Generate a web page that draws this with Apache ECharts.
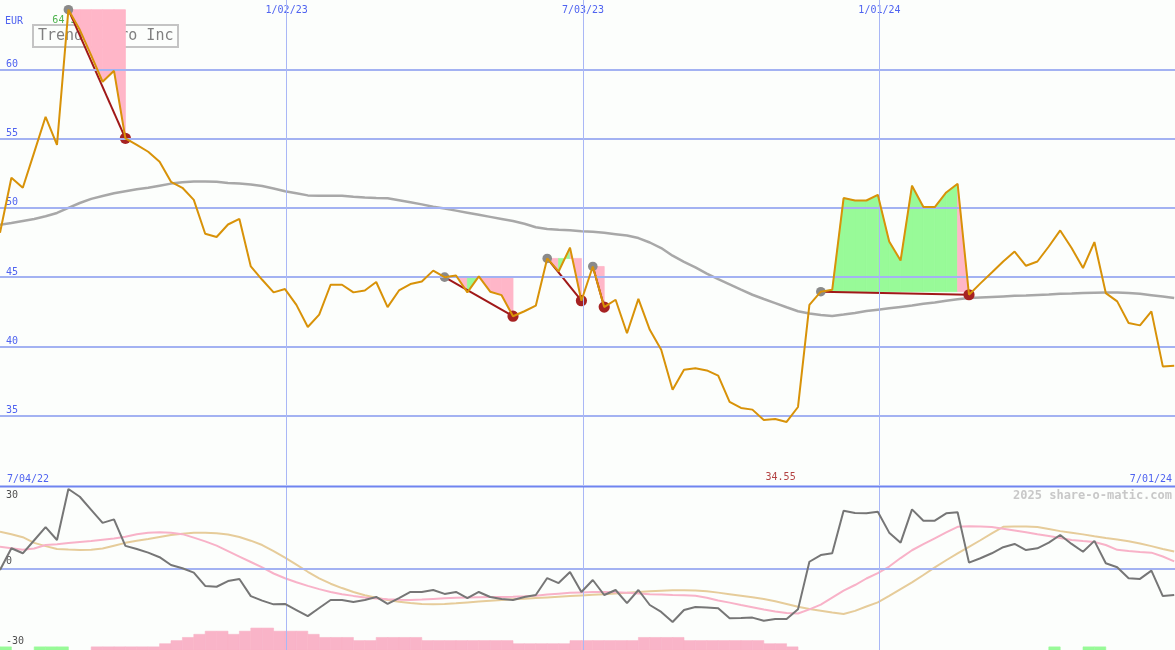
<!DOCTYPE html>
<html><head><meta charset="utf-8">
<script src="https://cdn.jsdelivr.net/npm/echarts@6/dist/echarts.min.js"></script>
<style>html,body{margin:0;padding:0;background:#fcfefc;}#c{width:1175px;height:650px;}</style>
</head><body><div id="c"></div>
<script>
// ---------- data ----------
const firstWeek = '2022-07-10';
const dateLabels = ['1/02/23', '7/03/23', '1/01/24'];
const dateLabelIso = ['2023-01-02', '2023-07-03', '2024-01-01'];
const cornerLabels = ['7/04/22', '7/01/24'];
const priceTicks = [35, 40, 45, 50, 55, 60];
const oscTicks = [30, 0, -30];
const stockName = 'Trend Micro Inc';
const currency = 'EUR';
const credit = '2025 share-o-matic.com';

const price = [48.2,52.17,51.45,54.0,56.57,54.55,64.3,62.85,61.0,59.1,59.89,55.02,54.55,54.05,53.33,51.88,51.45,50.58,48.13,47.9,
48.8,49.2,45.77,44.81,43.9,44.14,43.0,41.4,42.29,44.45,44.45,43.9,44.04,44.65,42.84,44.04,44.5,44.69,45.47,45.0,
45.12,43.9,45.05,43.95,43.7,42.18,42.54,42.94,46.35,45.41,47.13,43.3,45.77,42.84,43.37,40.95,43.43,41.2,39.76,36.88,
38.32,38.42,38.27,37.89,36.0,35.56,35.44,34.69,34.76,34.55,35.63,43.0,43.95,44.09,50.71,50.53,50.53,50.94,47.58,46.2,
51.6,50.06,50.06,51.11,51.74,43.73,44.55,45.33,46.13,46.85,45.82,46.13,47.21,48.37,47.1,45.66,47.53,43.85,43.25,41.69,
41.52,42.53,38.56,38.6];

const priceMA = [48.78,48.9,49.05,49.2,49.4,49.63,50.0,50.35,50.65,50.85,51.05,51.2,51.35,51.45,51.6,51.75,51.85,51.9,51.9,51.88,
51.8,51.75,51.68,51.58,51.4,51.2,51.05,50.9,50.88,50.88,50.87,50.8,50.75,50.72,50.7,50.55,50.4,50.25,50.08,49.95,
49.8,49.65,49.5,49.35,49.2,49.05,48.85,48.6,48.48,48.42,48.38,48.32,48.27,48.2,48.1,48.0,47.82,47.5,47.1,46.55,
46.1,45.7,45.25,44.85,44.48,44.1,43.73,43.42,43.13,42.83,42.54,42.37,42.27,42.2,42.3,42.42,42.55,42.65,42.75,42.85,
42.95,43.08,43.17,43.3,43.4,43.49,43.53,43.57,43.61,43.65,43.68,43.72,43.75,43.8,43.82,43.85,43.88,43.9,43.9,43.85,
43.8,43.7,43.6,43.49];

const osc = [-0.7,9.3,7.0,13.0,19.0,13.1,36.6,33.0,27.0,21.0,22.6,10.4,9.0,7.3,5.2,1.6,0.1,-1.9,-8.0,-8.4,
-5.8,-4.8,-12.7,-14.8,-16.5,-16.3,-19.1,-21.9,-18.2,-14.5,-14.5,-15.4,-14.5,-13.1,-16.3,-13.6,-10.8,-10.8,-9.9,-11.7,
-10.8,-13.6,-10.8,-13.1,-14.0,-14.5,-13.1,-12.2,-4.4,-6.7,-1.6,-10.8,-5.3,-12.2,-9.9,-15.9,-9.9,-16.8,-20.0,-24.6,
-19.1,-17.7,-17.9,-18.3,-22.9,-22.8,-22.6,-24.0,-23.2,-23.2,-18.8,3.1,6.2,7.0,26.6,25.5,25.4,26.1,16.5,11.9,
27.2,22.0,22.0,25.4,25.9,2.7,4.7,7.0,9.8,11.3,8.5,9.3,11.9,15.4,11.3,7.7,12.7,2.4,0.6,-4.5,
-4.8,-1.0,-12.7,-12.2];

const oscFast = [10,9.3,8.6,9.2,10.8,11.2,11.7,12.2,12.6,13.2,13.8,14.6,15.8,16.5,16.7,16.4,15.8,14.2,12.5,10.5,
8.0,5.5,3.0,0.5,-2.3,-4.5,-6.3,-8.0,-9.5,-10.8,-11.8,-12.6,-13.3,-13.8,-14.2,-14.4,-14.5,-14.3,-14.0,-13.7,
-13.5,-13.3,-13.2,-13.1,-13.1,-13.0,-12.8,-12.5,-12.0,-11.6,-11.2,-11.0,-10.8,-10.8,-10.9,-11.2,-11.5,-11.8,-12.0,-12.2,
-12.3,-12.5,-13.5,-14.7,-15.7,-16.8,-17.8,-18.9,-19.8,-20.5,-20.7,-18.8,-16.6,-13.4,-10.2,-7.6,-4.6,-2.1,0.9,4.8,
8.4,11.2,13.9,16.6,19.2,19.4,19.3,19.1,18.3,17.5,16.7,15.8,15.0,14.0,13.1,12.6,12.2,10.8,8.6,8.0,
7.6,7.3,5.5,3.3];

const oscSlow = [16.9,15.8,14.4,11.8,10.3,9.0,8.7,8.5,8.6,9.2,10.5,11.8,12.8,13.6,14.5,15.4,16.0,16.4,16.5,16.2,
15.6,14.5,12.8,10.8,8.0,5.0,1.8,-1.5,-4.5,-7.0,-9.0,-10.8,-12.3,-13.5,-14.5,-15.3,-15.9,-16.3,-16.4,-16.3,
-16.0,-15.6,-15.2,-14.8,-14.5,-14.2,-13.9,-13.6,-13.3,-13.0,-12.7,-12.4,-12.1,-11.8,-11.5,-11.2,-10.8,-10.5,-10.2,-10.0,
-10.0,-10.1,-10.5,-11.1,-11.8,-12.5,-13.2,-14.0,-15.1,-16.3,-17.6,-18.6,-19.4,-20.2,-20.9,-19.5,-17.5,-15.6,-12.6,-9.5,
-6.4,-3.0,0.5,3.8,7.0,10.0,13.0,16.2,19.2,19.3,19.3,19.1,18.2,17.2,16.5,15.7,14.8,14.0,13.3,12.5,
11.5,10.3,9.0,7.8];

const barsPink = [0,0,0,0,0,0,0,0,1,1,1,1,1,1,2,3,4,5,6,6,
5,6,7,7,6,6,6,5,4,4,4,3,3,4,4,4,4,3,3,3,
3,3,3,3,3,2,2,2,2,2,3,3,3,3,3,3,4,4,4,4,
3,3,3,3,3,3,3,2,2,1,0,0,0,0,0,0,0,0,0,0,
0,0,0,0,0,0,0,0,0,0,0,0,0,0,0,0,0,0,0,0,
0,0,0,0];
const barsGreen = [1,0,0,1,1,1,0,0,0,0,0,0,0,0,0,0,0,0,0,0,
0,0,0,0,0,0,0,0,0,0,0,0,0,0,0,0,0,0,0,0,
0,0,0,0,0,0,0,0,0,0,0,0,0,0,0,0,0,0,0,0,
0,0,0,0,0,0,0,0,0,0,0,0,0,0,0,0,0,0,0,0,
0,0,0,0,0,0,0,0,0,0,0,0,1,0,0,1,1,0,0,0,
0,0,0,0];

// trend legs: [start week index, end week index]
const trends = [[6,11],[39,45],[48,51],[52,53],[72,85]];

// ---------- build ----------
const MONO = "'DejaVu Sans Mono', monospace";
const BLUE = '#4f63f0';
const PINK = '#ffb6c8';
const GREEN = '#98fa98';
const XMAX = 103.07;
const DAY = 864e5;
const weekPos = iso => (Date.parse(iso) - Date.parse(firstWeek)) / (7 * DAY);
const datePos = dateLabelIso.map(weekPos);
const idx = a => a.map((v, i) => [i, v]);

const fillData = [];
trends.forEach(([s, e]) => {
  const lvl = price[s];
  for (let i = s; i < e; i++) fillData.push([i, lvl, price[i], price[i + 1]]);
});
const trendData = trends.map(([s, e]) => [s, price[s], e, price[e]]);
const barData = [];
barsPink.forEach((v, i) => { if (v) barData.push([i, v, 0]); });
barsGreen.forEach((v, i) => { if (v) barData.push([i, v, 1]); });

let maxI = 0, minI = 0;
price.forEach((v, i) => { if (v > price[maxI]) maxI = i; if (v < price[minI]) minI = i; });

const hGrid = priceTicks.map(v => ({ yAxis: v, lineStyle: { color: '#a3b2f2', width: 2, type: 'solid' } }));
const vGrid = datePos.map(p => ({ xAxis: p, lineStyle: { color: '#a9b7f6', width: 1, type: 'solid' } }));

const chart = echarts.init(document.getElementById('c'), null, { renderer: 'canvas' });
chart.setOption({
  backgroundColor: '#fcfefc',
  animation: false,
  grid: [
    { left: 0, right: 0, top: 0, height: 485 },
    { left: 0, right: 0, top: 487, height: 163 }
  ],
  xAxis: [
    { gridIndex: 0, type: 'value', min: 0, max: XMAX, position: 'top',
      axisLine: { show: false }, axisTick: { show: false }, splitLine: { show: false },
      axisLabel: { customValues: datePos, inside: true, margin: 5, color: BLUE, fontFamily: MONO, fontSize: 10,
        formatter: v => { const j = datePos.findIndex(p => Math.abs(p - v) < 0.01); return j >= 0 ? dateLabels[j] : ''; } } },
    { gridIndex: 1, type: 'value', min: 0, max: XMAX, show: false }
  ],
  yAxis: [
    { gridIndex: 0, type: 'value', min: 30, max: 65, axisLine: { show: false }, axisTick: { show: false }, splitLine: { show: false },
      axisLabel: { customValues: priceTicks, inside: true, margin: 6, color: BLUE, fontFamily: MONO, fontSize: 10,
        verticalAlign: 'bottom', padding: [0, 0, 0, 0] } },
    { gridIndex: 1, type: 'value', min: -37.5, max: 37.5, axisLine: { show: false }, axisTick: { show: false }, splitLine: { show: false },
      axisLabel: { customValues: oscTicks, inside: true, margin: 6, color: '#505050', fontFamily: MONO, fontSize: 10,
        verticalAlign: 'middle',
        formatter: v => v > 0 ? '{u|' + v + '}' : (v < 0 ? '{d|' + v + '}' : '{z|' + v + '}'),
        rich: { u: { padding: [0, 0, 16, 0] }, z: { padding: [0, 0, 14, 0] }, d: { padding: [16, 0, 0, 0] } } } },
    { gridIndex: 1, type: 'value', min: 0, max: 52, show: false }
  ],
  graphic: [
    { type: 'group', left: 32, top: 24, z: 0, children: [
      { type: 'rect', shape: { x: 1, y: 1, width: 145, height: 22 }, style: { fill: 'rgba(252,254,252,0)', stroke: '#c4c4c4', lineWidth: 2 } },
      { type: 'text', x: 6, y: 12, style: { text: stockName, font: "15px 'DejaVu Sans Mono', monospace", fill: '#808080', verticalAlign: 'middle' } }
    ] },
    { type: 'text', left: 5, top: 16, z: 0, style: { text: currency, font: "10px 'DejaVu Sans Mono', monospace", fill: BLUE } },
    { type: 'rect', left: 0, top: 485.5, z: 10, shape: { width: 1175, height: 2 }, style: { fill: '#6f84f0' } },
    { type: 'text', left: 7, top: 474, z: 10, style: { text: cornerLabels[0], font: "10px 'DejaVu Sans Mono', monospace", fill: BLUE } },
    { type: 'text', right: 3, top: 474, z: 10, style: { text: cornerLabels[1], font: "10px 'DejaVu Sans Mono', monospace", fill: BLUE } },
    { type: 'text', right: 3, top: 490, z: 10, style: { text: credit, font: "bold 12px 'DejaVu Sans Mono', monospace", fill: '#c8c8c8' } }
  ],
  series: [
    // grid lines + long moving average
    { type: 'line', xAxisIndex: 0, yAxisIndex: 0, z: 1, data: idx(priceMA), showSymbol: false, silent: true,
      lineStyle: { color: '#a8a8a8', width: 2.5 },
      markLine: { silent: true, symbol: 'none', label: { show: false }, data: hGrid.concat(vGrid), animation: false } },
    // max label
    { type: 'scatter', xAxisIndex: 0, yAxisIndex: 0, z: 2, symbolSize: 1, itemStyle: { color: 'rgba(0,0,0,0)' },
      data: [[maxI, price[maxI]]],
      label: { show: true, position: 'bottom', distance: 5, offset: [-4, 0], color: '#22a022', fontFamily: MONO, fontSize: 10,
        formatter: p => p.value[1].toFixed(1) } },
    // trend fills
    { type: 'custom', xAxisIndex: 0, yAxisIndex: 0, z: 3, silent: true, data: fillData,
      encode: { x: 0, y: 1 },
      renderItem: (params, api) => {
        const i = api.value(0), lvl = api.value(1), p0 = api.value(2), p1 = api.value(3);
        const pts = [api.coord([i, lvl]), api.coord([i, p0]), api.coord([i + 1, p1]), api.coord([i + 1, lvl])];
        const col = p1 >= lvl ? GREEN : PINK;
        return { type: 'polygon', shape: { points: pts }, style: { fill: col, stroke: col, lineWidth: 0.8 } };
      } },
    // trend legs
    { type: 'custom', xAxisIndex: 0, yAxisIndex: 0, z: 4, silent: true, data: trendData,
      encode: { x: [0, 2], y: [1, 3] },
      renderItem: (params, api) => {
        const a = api.coord([api.value(0), api.value(1)]);
        const b = api.coord([api.value(2), api.value(3)]);
        return { type: 'group', children: [
          { type: 'line', shape: { x1: a[0], y1: a[1], x2: b[0], y2: b[1] }, style: { stroke: '#a01818', lineWidth: 2 } },
          { type: 'circle', shape: { cx: a[0], cy: a[1], r: 4.8 }, style: { fill: '#8a8a8a' } },
          { type: 'circle', shape: { cx: b[0], cy: b[1], r: 5.6 }, style: { fill: '#a62222' } }
        ] };
      } },
    // price
    { type: 'line', xAxisIndex: 0, yAxisIndex: 0, z: 5, data: idx(price), showSymbol: false, silent: true,
      lineStyle: { color: '#d89208', width: 2 } },
    // min label
    { type: 'scatter', xAxisIndex: 0, yAxisIndex: 0, z: 6, symbolSize: 1, itemStyle: { color: 'rgba(0,0,0,0)' },
      data: [[minI, 30]],
      label: { show: true, position: 'top', distance: 2, offset: [-6, 0], color: '#a01414', fontFamily: MONO, fontSize: 10,
        formatter: () => price[minI].toFixed(2) } },
    // oscillator panel
    { type: 'line', xAxisIndex: 1, yAxisIndex: 1, z: 1, data: [], silent: true,
      markLine: { silent: true, symbol: 'none', label: { show: false }, animation: false,
        data: [{ yAxis: 0, lineStyle: { color: '#a3b2f2', width: 2, type: 'solid' } }].concat(vGrid) } },
    { type: 'custom', xAxisIndex: 1, yAxisIndex: 2, z: 2, silent: true, data: barData, encode: { x: 0, y: 1 },
      renderItem: (params, api) => {
        const i = api.value(0), v = api.value(1);
        const a = api.coord([i, v]), b = api.coord([i + 1, 0]);
        const col = api.value(2) ? GREEN : '#f9b4c8';
        return { type: 'rect', shape: { x: a[0], y: a[1], width: b[0] - a[0], height: b[1] - a[1] },
          style: { fill: col, stroke: col, lineWidth: 0.6 } };
      } },
    { type: 'line', xAxisIndex: 1, yAxisIndex: 1, z: 3, data: idx(oscSlow), showSymbol: false, silent: true,
      lineStyle: { color: '#e6cc9a', width: 2 } },
    { type: 'line', xAxisIndex: 1, yAxisIndex: 1, z: 4, data: idx(oscFast), showSymbol: false, silent: true,
      lineStyle: { color: '#f8b2c8', width: 2 } },
    { type: 'line', xAxisIndex: 1, yAxisIndex: 1, z: 5, data: idx(osc), showSymbol: false, silent: true,
      lineStyle: { color: '#767676', width: 2 } }
  ]
});
</script></body></html>
